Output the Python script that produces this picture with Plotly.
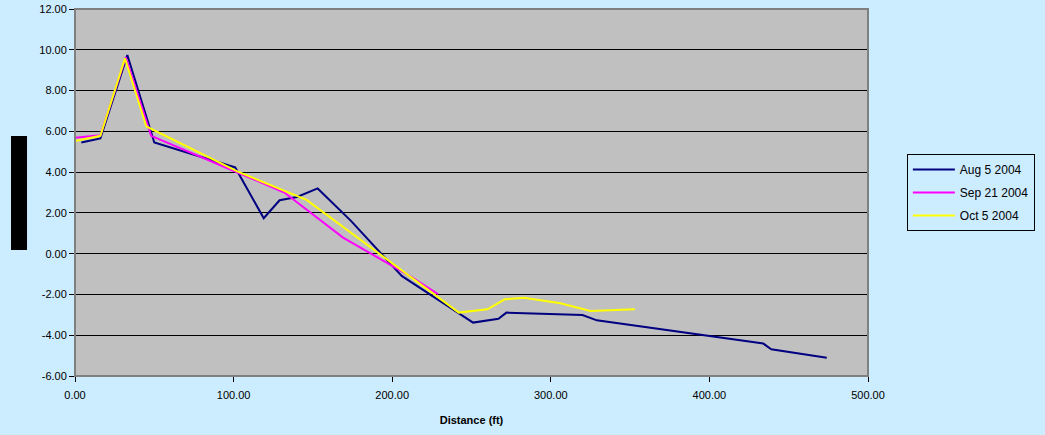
import plotly.graph_objects as go

# Distance (ft) / elevation values
aug_x = [4, 16, 33, 50, 101, 119, 129, 140, 153, 174, 206, 243, 251, 267, 272, 320, 329, 434, 439, 474]
aug_y = [5.45, 5.65, 9.74, 5.45, 4.23, 1.74, 2.62, 2.78, 3.20, 1.61, -1.09, -2.98, -3.38, -3.19, -2.89, -3.01, -3.27, -4.41, -4.69, -5.10]

sep_x = [0, 16, 32, 48, 101, 132, 169, 211, 229]
sep_y = [5.68, 5.81, 9.63, 5.78, 4.03, 3.00, 0.79, -1.09, -1.99]

oct_x = [0, 16, 31.5, 45, 103, 146, 242, 260, 271, 283, 306, 325, 353]
oct_y = [5.53, 5.78, 9.58, 6.24, 4.01, 2.64, -2.89, -2.73, -2.24, -2.16, -2.43, -2.81, -2.73]

series_names = ["Aug 5 2004", "Sep 21 2004", "Oct 5 2004"]
series_colors = ["#000080", "#FF00FF", "#FFFF00"]

x_ticks = [0, 100, 200, 300, 400, 500]
y_ticks = [-6, -4, -2, 0, 2, 4, 6, 8, 10, 12]

fig = go.Figure()
for i, (xs, ys) in enumerate([(aug_x, aug_y), (sep_x, sep_y), (oct_x, oct_y)]):
    fig.add_trace(go.Scatter(
        x=xs, y=ys, mode="lines", name=series_names[i],
        line=dict(color=series_colors[i], width=2),
        legendgroup=f"g{i}",
    ))

font_family = "Liberation Sans, Arial, sans-serif"

fig.update_layout(
    width=1045, height=435,
    margin=dict(l=75, r=177, t=9, b=59, autoexpand=False),
    paper_bgcolor="#CCECFF",
    plot_bgcolor="#C0C0C0",
    font=dict(family=font_family, size=11, color="#000000"),
    showlegend=True,
    legend=dict(
        x=1.049, xanchor="left", y=0.5, yanchor="middle",
        bgcolor="#CCECFF", bordercolor="#000000", borderwidth=1,
        font=dict(family=font_family, size=12, color="#000000"),
        tracegroupgap=4, itemwidth=42,
    ),
    xaxis=dict(
        range=[0, 500], tickvals=x_ticks,
        ticktext=[f"{v:.2f}" for v in x_ticks],
        showgrid=False, zeroline=False,
        showline=True, linecolor="#000000", linewidth=1,
        ticks="outside", ticklen=5, tickcolor="#000000",
        ticklabelstandoff=4,
        title=dict(text="<b>Distance (ft)</b>", font=dict(size=11, family=font_family), standoff=16),
    ),
    yaxis=dict(
        range=[-6, 12], tickvals=y_ticks,
        ticktext=[f"{v:.2f}" for v in y_ticks],
        showgrid=True, gridcolor="#000000", gridwidth=1,
        zeroline=False,
        showline=True, linecolor="#000000", linewidth=1,
        ticks="outside", ticklen=5, tickcolor="#000000",
    ),
    shapes=[
        # plot area border (top/right in gray)
        dict(type="rect", xref="paper", yref="paper", x0=0, x1=1, y0=0, y1=1,
             line=dict(color="#808080", width=2), layer="above"),
        # redacted y-axis title block
        dict(type="rect", xref="paper", yref="paper",
             x0=-0.0807, x1=-0.0605, y0=0.343, y1=0.654,
             fillcolor="#000000", line=dict(width=0)),
    ],
)

fig.write_html("out.html")
